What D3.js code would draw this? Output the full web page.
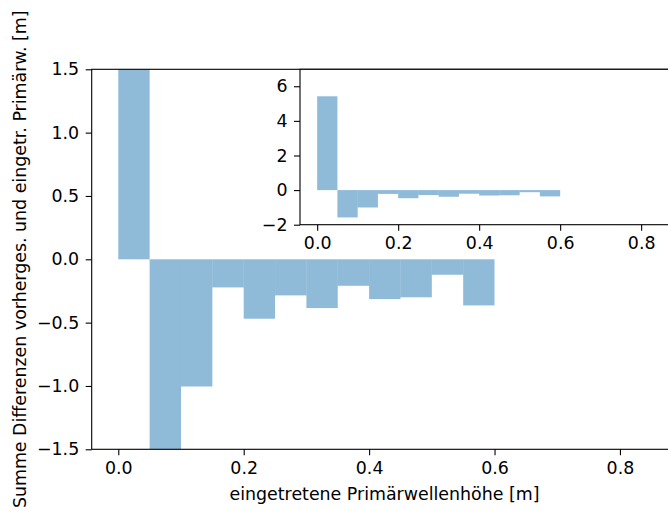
<!DOCTYPE html>
<html><head><meta charset="utf-8">
<script src="https://cdn.jsdelivr.net/npm/d3@7"></script>
<style>
body{margin:0;background:#fff;}
svg{display:block;font-family:"DejaVu Sans",sans-serif;}
</style></head>
<body><svg id="c" width="668" height="511"></svg>
<script>
const binStarts = [0.00,0.05,0.10,0.15,0.20,0.25,0.30,0.35,0.40,0.45,0.50,0.55];
const binWidth = 0.05;
const values = [5.42,-1.58,-1.004,-0.222,-0.469,-0.285,-0.385,-0.209,-0.314,-0.300,-0.122,-0.364];
const xTicks = [0.0,0.2,0.4,0.6,0.8];
const mainYTicks = [-1.5,-1.0,-0.5,0.0,0.5,1.0,1.5];
const insetYTicks = [-2,0,2,4,6];
const xLabel = "eingetretene Primärwellenhöhe [m]";
const yLabel = "Summe Differenzen vorherges. und eingetr. Primärw. [m]";

const svg = d3.select("#c");
const FS = 17.4;
const barColor = "#1f77b4";

function drawAxes(g, id, x, y, yTicks, yFmt){
  const [x0,x1] = x.range(); const [y0,y1] = y.range();
  g.append("clipPath").attr("id",id).append("rect")
    .attr("x",x0).attr("y",y1).attr("width",x1-x0).attr("height",y0-y1);
  g.append("rect").attr("x",x0).attr("y",y1).attr("width",x1-x0).attr("height",y0-y1).attr("fill","#fff");
  g.append("g").attr("clip-path",`url(#${id})`).selectAll("rect").data(values).join("rect")
    .attr("x",(d,i)=>x(binStarts[i]))
    .attr("width",(d,i)=>x(binStarts[i]+binWidth)-x(binStarts[i]))
    .attr("y",d=>y(Math.max(0,d)))
    .attr("height",d=>Math.abs(y(d)-y(0)))
    .attr("fill",barColor).attr("fill-opacity",0.5);
  const xa = g.append("g").attr("transform",`translate(0,${y0})`)
    .call(d3.axisBottom(x).tickValues(xTicks).tickFormat(d3.format(".1f")).tickSize(6).tickPadding(6));
  const ya = g.append("g").attr("transform",`translate(${x0},0)`)
    .call(d3.axisLeft(y).tickValues(yTicks).tickFormat(yFmt).tickSize(6).tickPadding(6.5));
  [xa,ya].forEach(a=>{
    a.select(".domain").remove();
    a.selectAll("text").attr("font-size",FS).attr("fill","#000").attr("font-family","DejaVu Sans");
    a.selectAll("line").attr("stroke","#000").attr("stroke-width",1.1);
  });
  g.append("rect").attr("x",x0).attr("y",y1).attr("width",x1-x0).attr("height",y0-y1)
    .attr("fill","none").attr("stroke","#000").attr("stroke-width",1.1);
}

const fmtMinus = f => d => f(d).replace("-","\u2212");

// main axes
const mx = d3.scaleLinear().domain([-0.0424,0.891]).range([91.7,677]);
const my = d3.scaleLinear().domain([-1.5,1.5]).range([449.3,69.3]);
drawAxes(svg.append("g"),"clipMain",mx,my,mainYTicks,fmtMinus(d3.format(".1f")));

// inset axes
const ix = d3.scaleLinear().domain([-0.0424,0.891]).range([300,678]);
const iy = d3.scaleLinear().domain([-2,6.98]).range([224.7,69.3]);
drawAxes(svg.append("g"),"clipInset",ix,iy,insetYTicks,fmtMinus(d3.format("d")));

svg.append("text").attr("x",384.5).attr("y",500).attr("text-anchor","middle")
  .attr("font-size",FS).text(xLabel);
svg.append("text").attr("transform","translate(26,259.3) rotate(-90)").attr("text-anchor","middle")
  .attr("font-size",FS).text(yLabel);
</script></body></html>
